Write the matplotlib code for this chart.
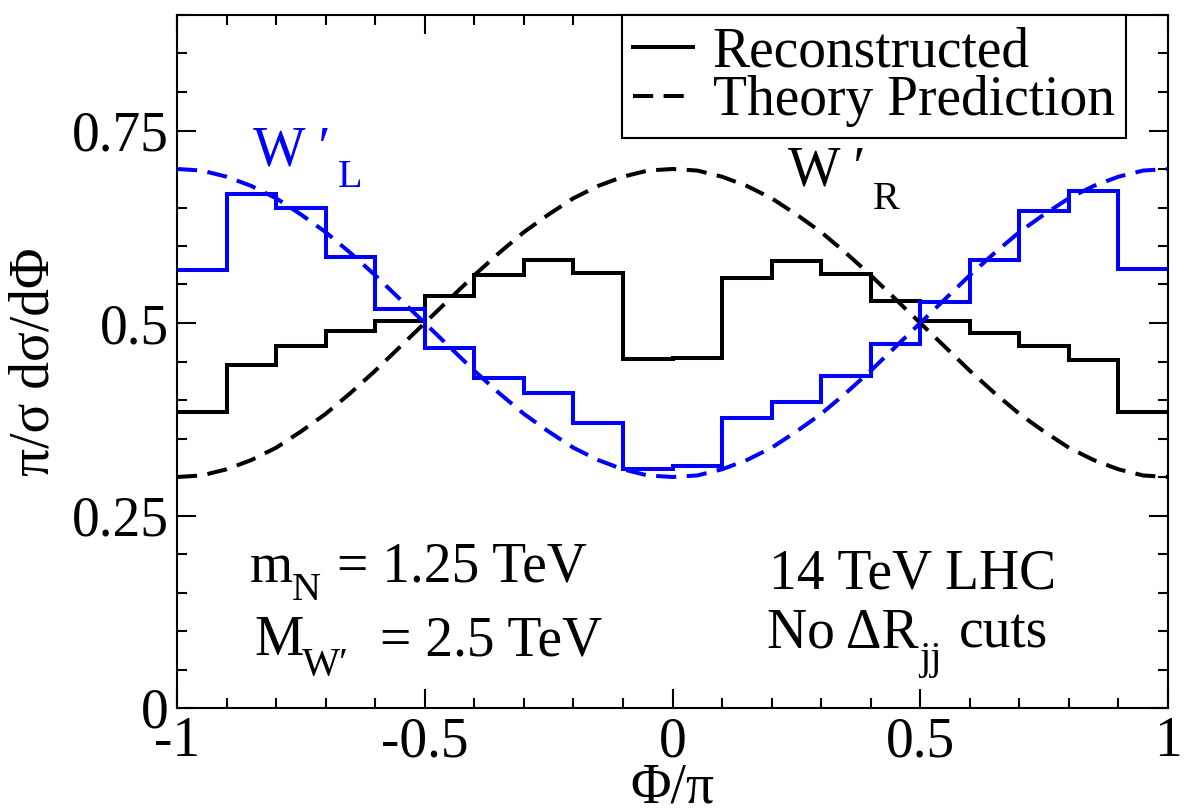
import matplotlib
matplotlib.use("Agg")
import matplotlib.pyplot as plt
import numpy as np

# bin edges of the Phi/pi histograms (20 bins of width 0.1)
bin_edges = np.round(np.linspace(-1.0, 1.0, 21), 2)

# reconstructed distributions
reco_R = [0.384, 0.445, 0.470, 0.490, 0.503, 0.535, 0.562, 0.582, 0.565, 0.453,
          0.455, 0.559, 0.581, 0.564, 0.529, 0.502, 0.487, 0.470, 0.452, 0.385]
reco_L = [0.569, 0.667, 0.650, 0.586, 0.518, 0.467, 0.429, 0.409, 0.370, 0.310,
          0.314, 0.376, 0.398, 0.431, 0.473, 0.527, 0.582, 0.646, 0.672, 0.570]

# theory prediction curves sampled every 0.05 in Phi/pi
theory_x = np.round(np.linspace(-1.0, 1.0, 41), 3)
theory_L = [0.700, 0.698, 0.690, 0.678, 0.662, 0.641, 0.618, 0.591, 0.562, 0.531,
            0.500, 0.469, 0.438, 0.409, 0.382, 0.359, 0.338, 0.322, 0.310, 0.302,
            0.300,
            0.302, 0.310, 0.322, 0.338, 0.359, 0.382, 0.409, 0.438, 0.469, 0.500,
            0.531, 0.562, 0.591, 0.618, 0.641, 0.662, 0.678, 0.690, 0.698, 0.700]
theory_R = [0.300, 0.302, 0.310, 0.322, 0.338, 0.359, 0.382, 0.409, 0.438, 0.469,
            0.500, 0.531, 0.562, 0.591, 0.618, 0.641, 0.662, 0.678, 0.690, 0.698,
            0.700,
            0.698, 0.690, 0.678, 0.662, 0.641, 0.618, 0.591, 0.562, 0.531, 0.500,
            0.469, 0.438, 0.409, 0.382, 0.359, 0.338, 0.322, 0.310, 0.302, 0.300]

plt.rcParams["font.family"] = ["Liberation Serif", "DejaVu Serif"]

FS = 40      # main text size
FS_SUB = 29  # subscripts
BLUE = "#0000ff"
LW = 2.9
DASH = (5, 2.6)

fig = plt.figure(figsize=(11.89, 8.09), dpi=100)
ax = fig.add_axes([177 / 1189, 1 - 708 / 809, 991 / 1189, 693 / 809])

ax.stairs(reco_R, bin_edges, color="black", lw=LW, baseline=None,
          label="Reconstructed")
ax.stairs(reco_L, bin_edges, color=BLUE, lw=LW, baseline=None)
ax.plot(theory_x, theory_R, color="black", lw=LW, dashes=DASH,
        label="Theory Prediction")
ax.plot(theory_x, theory_L, color=BLUE, lw=LW, dashes=DASH)

ax.set_xlim(-1, 1)
ax.set_ylim(0, 0.9)
ax.set_xticks([-1, -0.5, 0, 0.5, 1])
ax.set_xticklabels(["-1", "-0.5", "0", "0.5", "1"])
ax.set_xticks(np.arange(-1, 1.001, 0.1), minor=True)
ax.set_yticks([0, 0.25, 0.5, 0.75])
ax.set_yticklabels(["0", "0.25", "0.5", "0.75"])
ax.set_yticks(np.arange(0, 0.901, 0.05), minor=True)
ax.tick_params(which="both", direction="in", top=True, right=True,
               labelsize=FS, width=1.5)
ax.tick_params(which="major", length=14, pad=6)
ax.tick_params(which="minor", length=7)
for s in ax.spines.values():
    s.set_linewidth(1.5)

ax.set_xlabel("Φ/π", fontsize=FS, labelpad=-4)
ax.set_ylabel("π/σ dσ/dΦ", fontsize=FS, labelpad=8)

# curve labels: W' with a lowered subscript
ax.text(-0.847, 0.705, "W ′", color=BLUE, fontsize=FS)
ax.text(-0.675, 0.677, "L", color=BLUE, fontsize=FS_SUB)
ax.text(0.233, 0.679, "W ′", color="black", fontsize=FS)
ax.text(0.405, 0.648, "R", color="black", fontsize=FS_SUB)

# parameter block, bottom left
ax.text(-0.853, 0.164, "m", fontsize=FS)
ax.text(-0.768, 0.140, "N", fontsize=FS_SUB)
ax.text(-0.677, 0.164, "= 1.25 TeV", fontsize=FS)
ax.text(-0.843, 0.0686, "M", fontsize=FS)
ax.text(-0.748, 0.0427, "W′", fontsize=FS_SUB)
ax.text(-0.590, 0.0686, "= 2.5 TeV", fontsize=FS)

# collider block, bottom right
ax.text(0.484, 0.155, "14 TeV LHC", fontsize=FS, ha="center")
ax.text(0.191, 0.079, "No ΔR", fontsize=FS)
ax.text(0.497, 0.050, "jj", fontsize=FS_SUB)
ax.text(0.578, 0.079, "cuts", fontsize=FS)

leg = ax.legend(loc="upper right", bbox_to_anchor=(0.9576, 1.0),
                borderaxespad=0, fontsize=FS, frameon=True, fancybox=False,
                handlelength=1.08, handletextpad=0.36, labelspacing=-0.05,
                borderpad=0.2)
leg.get_frame().set_edgecolor("black")
leg.get_frame().set_linewidth(1.5)
leg.get_frame().set_alpha(1)

fig.savefig("out.png", dpi=100)
